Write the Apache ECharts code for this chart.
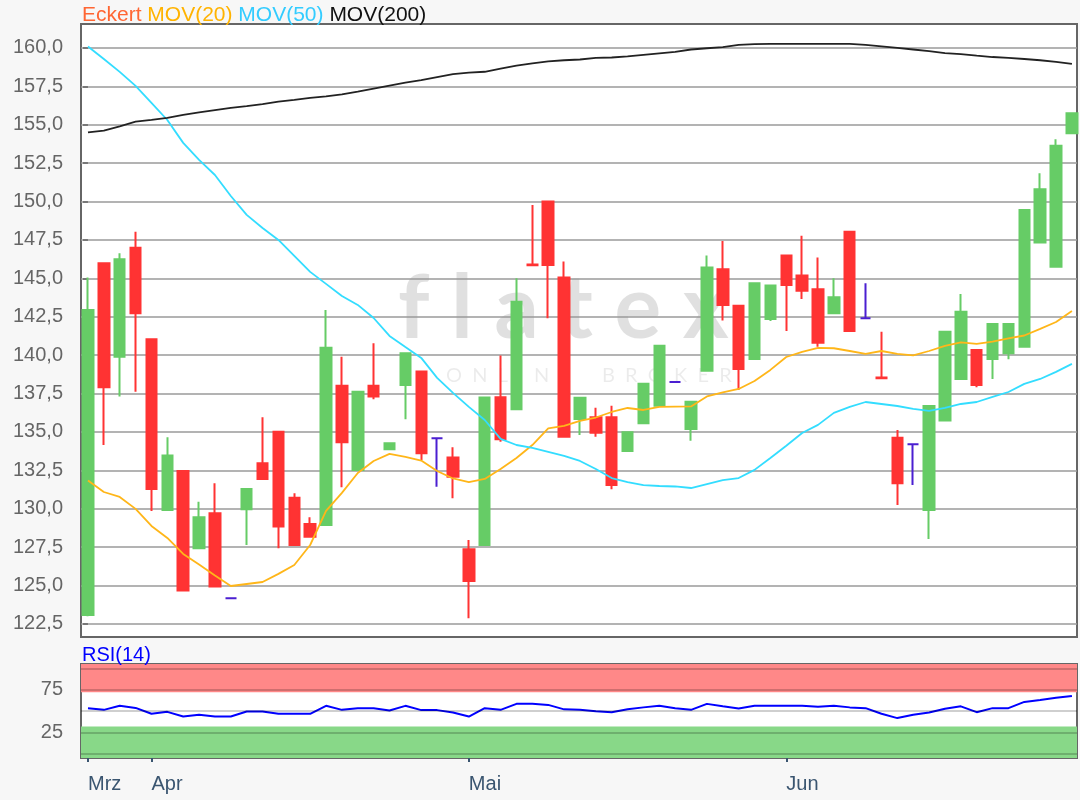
<!DOCTYPE html>
<html>
<head>
<meta charset="utf-8">
<title>Eckert</title>
<script src="https://cdn.jsdelivr.net/npm/echarts@6.0.0/dist/echarts.min.js"></script>
<style>
  html, body { margin: 0; padding: 0; background: #f7f7f7; }
  #chart { width: 1080px; height: 800px; }
</style>
</head>
<body>
<div id="chart"></div>
<script>
// daily candles, index 0 = first day shown
const opens = [123.09,145.98,139.9,147.0,141.03,129.92,132.46,127.43,129.71,124.17,
  129.97,132.96,135.02,130.72,129.01,128.95,138.0,132.53,138.01,133.87,
  138.06,138.93,134.59,133.33,127.36,127.64,137.26,136.48,145.9,150.0,
  145.05,135.85,135.96,135.96,133.76,135.57,136.71,138.26,135.2,138.99,
  145.59,143.22,139.75,142.36,146.48,145.18,144.29,142.73,148.04,142.4,
  138.55,134.63,134.2,129.92,135.74,138.45,140.34,139.75,140.12,140.55,
  147.33,145.76,154.45];
const closes = [142.94,137.91,146.24,142.73,131.29,133.46,124.67,129.45,124.93,124.17,
  131.29,131.94,128.84,127.64,128.18,140.49,134.33,137.62,137.3,134.26,
  140.12,133.61,134.59,132.09,125.3,137.25,134.52,143.48,145.85,145.87,
  134.69,137.23,134.95,131.55,134.98,138.13,140.62,138.26,136.97,145.7,
  143.27,139.1,144.68,144.53,144.57,144.2,140.81,143.77,141.58,142.4,
  138.5,131.66,134.2,136.69,141.53,142.83,138.06,142.03,142.03,149.45,
  150.8,153.64,155.75];
const lows = [123.0,134.15,137.3,137.62,129.86,129.92,124.67,127.43,124.93,124.17,
  127.64,131.94,127.43,127.64,128.18,128.95,131.4,132.53,137.13,133.87,
  135.83,133.18,131.44,130.68,122.87,127.64,134.37,136.48,145.85,142.4,
  134.69,134.8,134.69,131.27,133.76,135.57,136.71,138.26,134.43,138.99,
  142.25,137.73,139.75,142.23,141.58,143.66,140.55,142.73,141.58,142.4,
  138.5,130.25,131.55,128.03,135.74,138.45,137.91,138.45,139.73,140.55,
  147.33,145.76,154.45];
const highs = [145.05,145.98,146.63,148.04,141.03,134.66,132.46,130.46,131.66,124.17,
  131.29,135.96,135.02,131.01,129.45,142.94,139.9,137.62,140.78,134.26,
  140.12,138.93,134.59,134.0,127.97,137.25,139.97,145.0,149.78,150.0,
  146.09,137.23,136.58,136.71,134.98,138.13,140.62,138.26,136.97,146.48,
  147.43,143.22,144.68,144.53,146.48,147.78,146.35,145.0,148.04,144.68,
  141.53,135.13,134.2,136.69,141.53,143.98,140.34,142.03,142.03,149.45,
  151.84,154.06,155.75];

const mov20 = [131.84,131.09,130.77,129.99,128.88,128.1,127.06,126.37,125.66,124.97,
  125.1,125.23,125.76,126.34,127.64,129.86,131.03,132.33,133.11,133.57,
  133.37,133.14,132.46,131.97,131.73,131.94,132.59,133.3,134.15,135.23,
  135.39,135.72,135.94,136.3,136.56,136.43,136.63,136.65,136.66,137.31,
  137.57,137.8,138.32,139.04,139.88,140.21,140.47,140.45,140.27,140.08,
  140.27,140.08,139.98,140.27,140.6,140.83,140.73,140.88,141.09,141.28,
  141.71,142.16,142.88];
const mov50 = [160.1,159.28,158.44,157.53,156.42,155.31,153.82,152.71,151.73,150.36,
  149.13,148.28,147.5,146.46,145.42,144.64,143.85,143.27,142.42,141.25,
  140.53,139.82,138.52,137.54,136.63,135.78,134.55,134.15,133.96,133.7,
  133.44,133.11,132.59,132.0,131.74,131.54,131.48,131.45,131.35,131.61,
  131.87,132.0,132.53,133.3,134.1,134.93,135.46,136.24,136.63,136.95,
  136.82,136.69,136.5,136.37,136.56,136.82,136.95,137.28,137.6,138.13,
  138.45,138.91,139.43];
const mov200 = [154.51,154.62,154.9,155.2,155.32,155.45,155.64,155.8,155.95,156.1,
  156.22,156.35,156.5,156.62,156.75,156.85,156.98,157.15,157.35,157.55,
  157.75,157.9,158.1,158.3,158.4,158.45,158.65,158.85,159.0,159.12,
  159.2,159.25,159.35,159.38,159.45,159.55,159.65,159.75,159.9,159.98,
  160.05,160.2,160.25,160.26,160.26,160.26,160.26,160.26,160.26,160.2,
  160.1,160.0,159.9,159.8,159.67,159.6,159.5,159.41,159.35,159.28,
  159.2,159.1,158.96];
const rsi14 = [53.3,51.5,56.2,53.8,46.9,49.2,43.7,45.7,43.7,43.7,
  49.5,49.5,46.9,46.9,46.9,56.2,51.5,53.3,53.5,50.7,
  56.2,51.2,51.2,48.4,43.7,53.5,51.5,58.5,58.5,57.3,
  52.1,51.5,49.8,48.8,52.1,54.4,56.2,53.3,51.5,58.5,
  55.6,53.0,56.2,56.2,56.2,56.2,55.0,56.2,54.4,53.5,
  46.9,41.9,45.7,48.4,52.7,55.6,48.8,53.5,53.5,60.8,
  63.1,65.5,67.8];

const monthLabels = ['Mrz', 'Apr', 'Mai', 'Jun'];
const monthStarts = [0, 4, 24, 44];
const priceTicks = [122.5,125,127.5,130,132.5,135,137.5,140,142.5,145,147.5,150,152.5,155,157.5,160];
const rsiTicks = [25, 75];
const rsiLevels = [0, 25, 50, 75, 100];
const rsiZones = [[72, 105], [-4.65, 32]];

const FONT = '"Liberation Sans", Arial, sans-serif';
const GREEN = '#66CC66', RED = '#FF3333', DOJI = '#4B1FD1';

const candles = opens.map((o, i) => {
  const item = { value: [i, o, closes[i], lows[i], highs[i]] };
  if (o === closes[i]) {
    item.itemStyle = { color: DOJI, color0: DOJI, borderColor: DOJI, borderColor0: DOJI };
  }
  return item;
});
const pairs = arr => arr.map((v, i) => [i, v]);

const chart = echarts.init(document.getElementById('chart'));

const xBase = { type: 'value', min: -0.44, max: 62.32, splitLine: { show: false }, axisLine: { show: false } };

const option = {
  animation: false,
  backgroundColor: '#f7f7f7',
  textStyle: { fontFamily: FONT },
  title: [
    {
      left: 82, top: 5, padding: 0,
      text: '{a|Eckert} {b|MOV(20)} {c|MOV(50)} {d|MOV(200)}',
      textStyle: {
        fontSize: 21, fontWeight: 'normal', fontFamily: FONT,
        rich: {
          a: { color: '#FF6633', fontSize: 21, fontFamily: FONT },
          b: { color: '#FFB300', fontSize: 21, fontFamily: FONT },
          c: { color: '#33CCFF', fontSize: 21, fontFamily: FONT },
          d: { color: '#111111', fontSize: 21, fontFamily: FONT }
        }
      }
    },
    {
      left: 82, top: 645, padding: 0,
      text: 'RSI(14)',
      textStyle: { fontSize: 20, fontWeight: 'normal', color: '#0000FF', fontFamily: FONT }
    }
  ],
  graphic: [
    {
      type: 'text', left: 398, top: 266, silent: true,
      style: { text: 'f l a t e x', font: 'bold 88px Lato', fill: 'rgba(0,0,0,0.12)' }
    },
    {
      type: 'text', left: 446, top: 366, silent: true,
      style: { text: 'O  N  L  I  N  E      B  R  O  K  E  R', font: '20px Lato', fill: 'rgba(0,0,0,0.08)' }
    }
  ],
  grid: [
    { left: 81, top: 24, right: 3, height: 613, show: true, backgroundColor: '#fff', borderColor: '#666', borderWidth: 2 },
    { left: 81, top: 664, right: 3, height: 94, show: true, backgroundColor: '#fff', borderColor: '#666', borderWidth: 2 }
  ],
  xAxis: [
    Object.assign({ gridIndex: 0, axisTick: { show: false }, axisLabel: { show: false } }, xBase),
    Object.assign({
      gridIndex: 1,
      axisTick: { show: true, customValues: monthStarts, length: 8, lineStyle: { color: '#3a5570', width: 2 } },
      axisLabel: {
        customValues: monthStarts,
        formatter: v => monthLabels[monthStarts.indexOf(v)],
        align: 'left', color: '#3a5570', fontSize: 20, margin: 16, fontFamily: FONT
      }
    }, xBase)
  ],
  yAxis: [
    {
      gridIndex: 0, type: 'value', min: 121.65, max: 161.56,
      axisLine: { show: false },
      axisTick: { show: true, customValues: priceTicks, length: 5, lineStyle: { color: '#666', width: 1.5 } },
      axisLabel: {
        customValues: priceTicks,
        formatter: v => v.toFixed(1).replace('.', ','),
        color: '#666', fontSize: 20, margin: 18, fontFamily: FONT
      },
      splitLine: { show: true, lineStyle: { color: '#9a9a9a', width: 1.5 } }
    },
    {
      gridIndex: 1, type: 'value', min: -4.65, max: 105,
      axisLine: { show: false },
      axisTick: { show: true, customValues: rsiTicks, length: 5, lineStyle: { color: '#666', width: 1.5 } },
      axisLabel: { customValues: rsiTicks, color: '#666', fontSize: 20, margin: 18, fontFamily: FONT },
      splitLine: { show: false }
    }
  ],
  series: [
    {
      name: 'Eckert', type: 'candlestick', xAxisIndex: 0, yAxisIndex: 0,
      barWidth: 11, z: 3,
      itemStyle: { color: GREEN, color0: RED, borderColor: GREEN, borderColor0: RED, borderWidth: 2 },
      data: candles
    },
    {
      name: 'MOV(20)', type: 'line', xAxisIndex: 0, yAxisIndex: 0, z: 4,
      showSymbol: false, data: pairs(mov20),
      lineStyle: { color: '#FFB619', width: 1.8 }
    },
    {
      name: 'MOV(50)', type: 'line', xAxisIndex: 0, yAxisIndex: 0, z: 4,
      showSymbol: false, data: pairs(mov50),
      lineStyle: { color: '#33DDFF', width: 1.8 }
    },
    {
      name: 'MOV(200)', type: 'line', xAxisIndex: 0, yAxisIndex: 0, z: 4,
      showSymbol: false, data: pairs(mov200),
      lineStyle: { color: '#222', width: 1.8 }
    },
    {
      name: 'zones', type: 'line', xAxisIndex: 1, yAxisIndex: 1, z: 1,
      data: [], silent: true,
      markArea: {
        silent: true,
        data: [
          [{ yAxis: rsiZones[0][0], itemStyle: { color: '#FF8888' } }, { yAxis: rsiZones[0][1] }],
          [{ yAxis: rsiZones[1][0], itemStyle: { color: '#88D888' } }, { yAxis: rsiZones[1][1] }]
        ]
      }
    },
    {
      name: 'levels', type: 'line', xAxisIndex: 1, yAxisIndex: 1, z: 2,
      data: [], silent: true,
      markLine: {
        silent: true, symbol: 'none', label: { show: false },
        lineStyle: { color: 'rgba(0,0,0,0.25)', width: 1.5, type: 'solid' },
        data: rsiLevels.map(v => ({ yAxis: v }))
      }
    },
    {
      name: 'RSI(14)', type: 'line', xAxisIndex: 1, yAxisIndex: 1, z: 3,
      showSymbol: false, data: pairs(rsi14),
      lineStyle: { color: '#0000FF', width: 2 }
    }
  ]
};

chart.setOption(option);
</script>
</body>
</html>
